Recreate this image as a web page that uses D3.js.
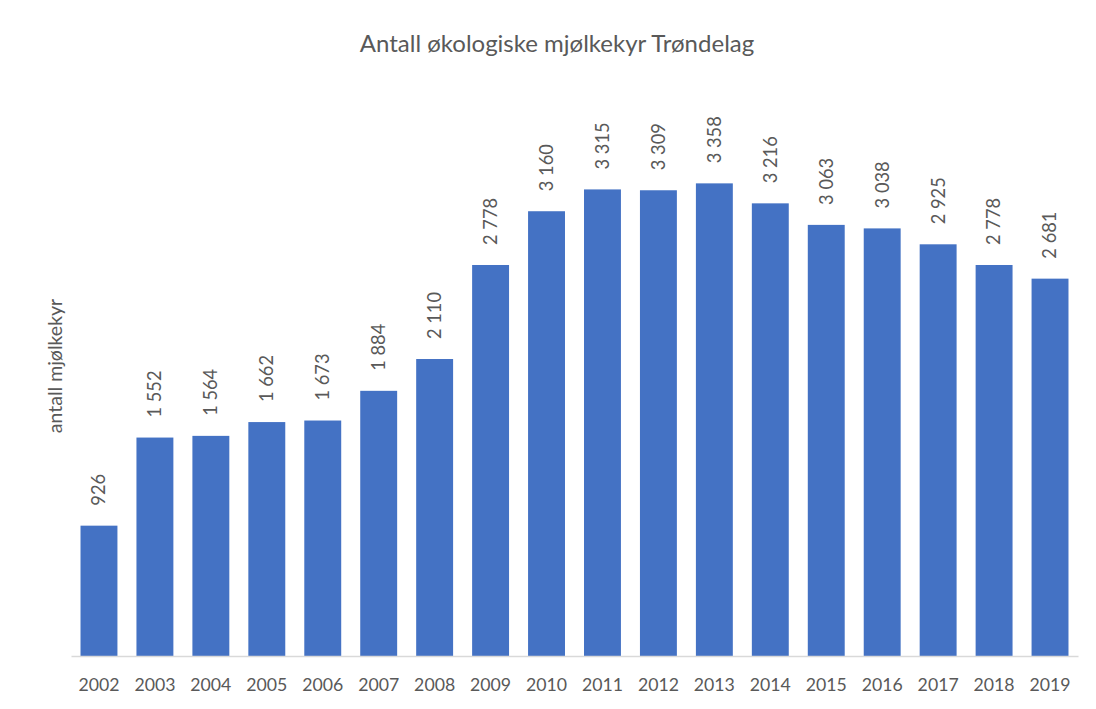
<!DOCTYPE html>
<html><head><meta charset="utf-8">
<script src="https://cdn.jsdelivr.net/npm/d3@7"></script>
<style>body{margin:0;background:#fff;} text{font-family:Lato,"Open Sans",sans-serif;fill:#595959;}</style>
</head><body><svg id="c" width="1096" height="709"></svg>
<script>
const years = ["2002","2003","2004","2005","2006","2007","2008","2009","2010","2011","2012","2013","2014","2015","2016","2017","2018","2019"];
const values = [926,1552,1564,1662,1673,1884,2110,2778,3160,3315,3309,3358,3216,3063,3038,2925,2778,2681];
const title = "Antall økologiske mjølkekyr Trøndelag";
const yTitle = "antall mjølkekyr";

const svg = d3.select("#c");
const m = {l:71, r:1078, t:93, b:656};
const x = d3.scaleBand().domain(years).range([m.l, m.r]).paddingInner(0.34).paddingOuter(0.17);
const y = d3.scaleLinear().domain([0,4000]).range([m.b, m.t]);
const fmt = v => d3.format(",")(v).replace(/,/g, " ");

svg.append("g").selectAll("rect").data(values).join("rect")
  .attr("x",(d,i)=>x(years[i])).attr("width",x.bandwidth())
  .attr("y",d=>y(d)).attr("height",d=>y(0)-y(d)).attr("fill","#4472C4");

const ax = svg.append("g").attr("transform",`translate(0,${m.b})`).call(d3.axisBottom(x).tickSize(0).tickPadding(0));
ax.select(".domain").attr("stroke","#d9d9d9").attr("stroke-width",1.3);
ax.selectAll("text").attr("font-size",17.7).attr("dy",0).attr("y",35).style("fill","#595959").style("font-family","Lato");

svg.append("g").selectAll("text").data(values).join("text")
  .attr("transform",(d,i)=>`translate(${x(years[i])+x.bandwidth()/2},${y(d)-20}) rotate(-90)`)
  .attr("dy","0.35em").attr("text-anchor","start").attr("font-size",18.3).text(d=>fmt(d));

svg.append("text").attr("x",557).attr("y",52).attr("text-anchor","middle").attr("font-size",24).text(title);
svg.append("text").attr("transform","translate(62,366) rotate(-90)").attr("text-anchor","middle").attr("font-size",19.5).text(yTitle);
</script></body></html>
